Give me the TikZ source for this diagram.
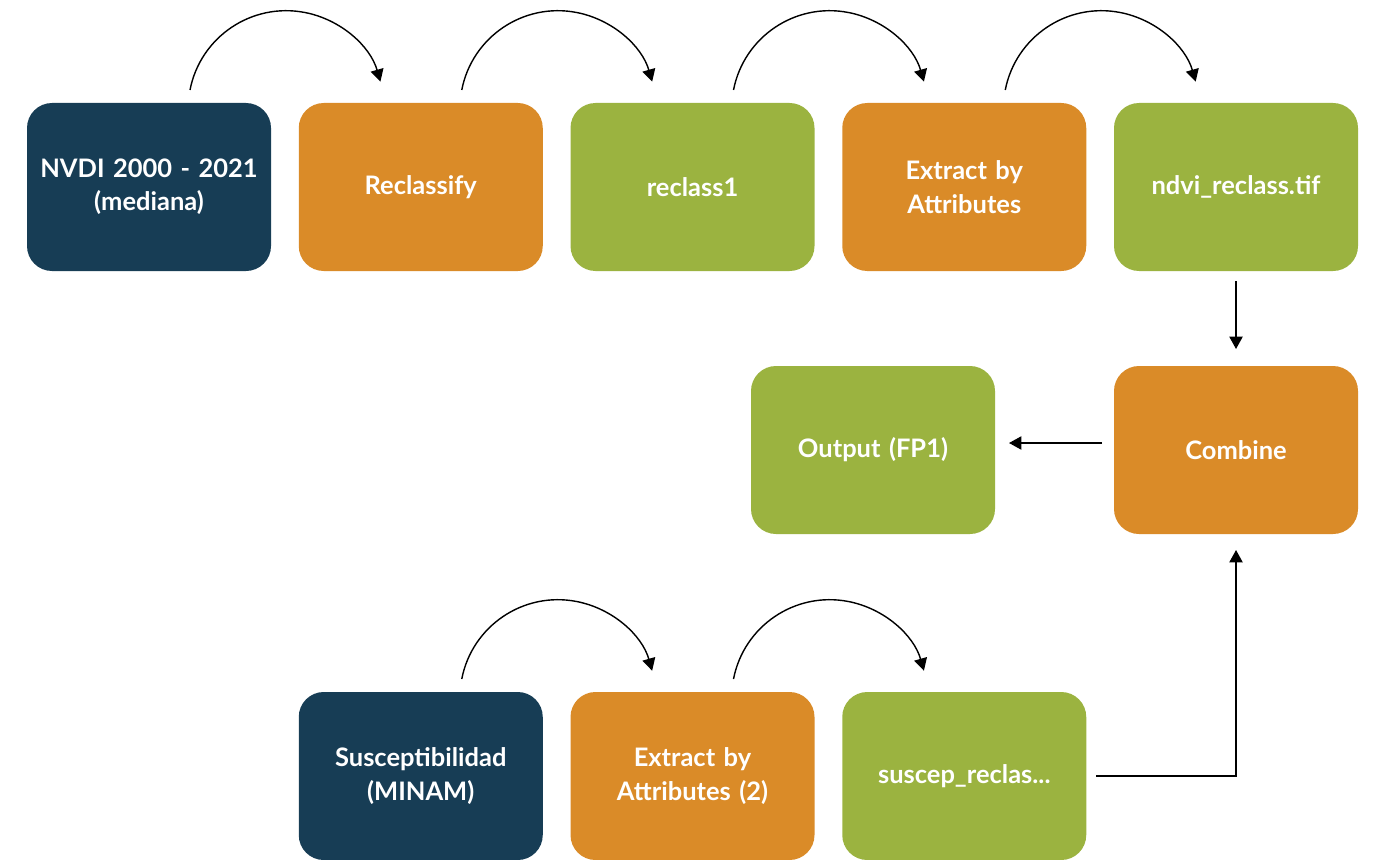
\documentclass[tikz,border=0pt]{standalone}
\usepackage{fontspec}
\setmainfont{Lato}
\usepackage{xcolor}
\usepackage{tikz}
\usetikzlibrary{arrows.meta,positioning}

\definecolor{navy}{HTML}{173D55}
\definecolor{ochre}{HTML}{DA8B28}
\definecolor{olive}{HTML}{9BB340}

\begin{document}
\begin{tikzpicture}[node distance=0.555cm,
    box/.style={rectangle, rounded corners=0.5cm, inner sep=0pt, outer sep=0pt,
        minimum width=4.88cm, minimum height=3.36cm, text width=4.7cm,
        align=center, text=white, font=\fontsize{14.5}{19}\selectfont\bfseries},
    inbox/.style={box, fill=navy},
    toolbox/.style={box, fill=ochre},
    databox/.style={box, fill=olive},
    flow/.style={-{Triangle[width=7.5pt,length=7pt]}, line width=0.8pt}]
    \useasboundingbox (0,0) rectangle (27.52,-17.18);

    % first chain
    \node[inbox] (n1) at (2.98,-3.74) {NVDI 2000 - 2021\\(mediana)};
    \node[toolbox, right=of n1] (n2) {Reclassify};
    \node[databox, right=of n2] (n3) {reclass1};
    \node[toolbox, right=of n3] (n4) {Extract by\\Attributes};
    \node[databox, right=of n4] (n5) {ndvi\_reclass.tif};

    % combine and output
    \node[toolbox, below=1.9cm of n5] (comb) {Combine};
    \node[databox, left=2.38cm of comb] (out) {Output (FP1)};

    % second chain
    \node[inbox, below=8.42cm of n2] (s1) {Susceptibilidad\\(MINAM)};
    \node[toolbox, right=of s1] (s2) {Extract by\\Attributes (2)};
    \node[databox, right=of s2] (s3) {suscep\_reclas...};

    % curved arrows between neighbours
    \foreach \a in {n1,n2,n3,n4,s1,s2}
        \draw[flow] ([xshift=-1.62cm, yshift=0.26cm]\a.north east)
            arc[start angle=169, end angle=16, radius=1.96cm];

    \draw[flow, shorten <=0.2cm, shorten >=0.34cm] (n5) -- (comb);
    \draw[flow, shorten <=0.24cm, shorten >=0.28cm]
        ([yshift=0.14cm]comb.west) -- ([yshift=0.14cm]out.east);
    \draw[flow, shorten <=0.2cm, shorten >=0.32cm] (s3.east) -| (comb.south);
\end{tikzpicture}
\end{document}
